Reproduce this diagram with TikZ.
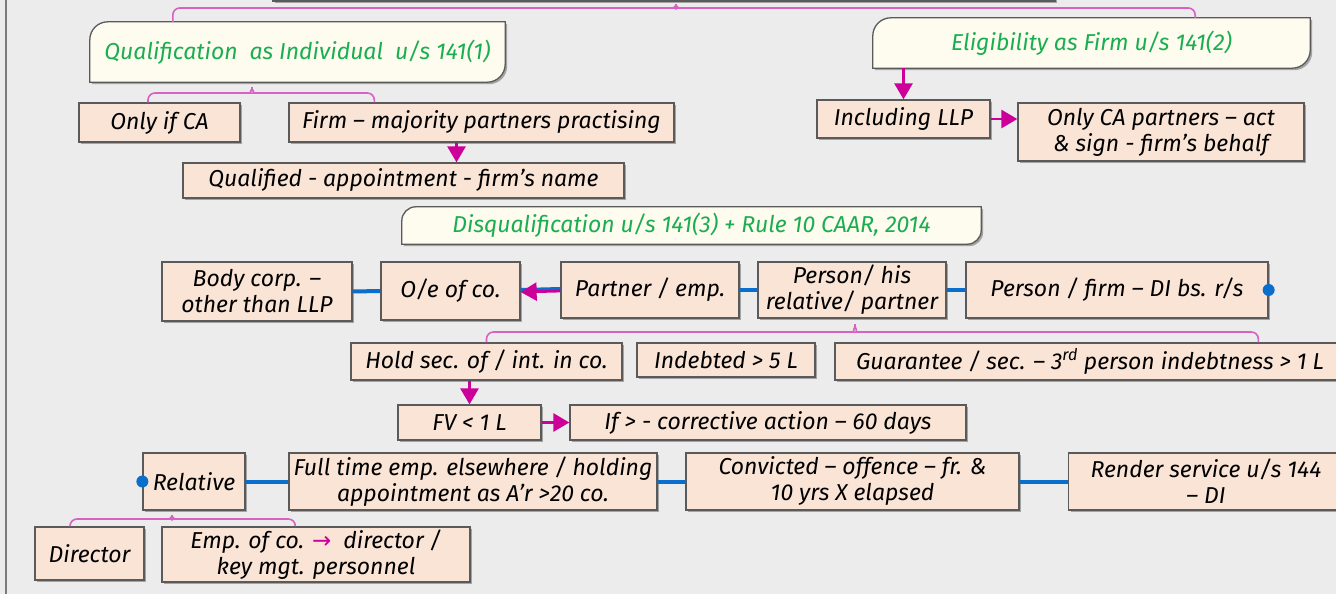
\documentclass[tikz,border=0pt]{standalone}
\usepackage{fontspec}
\setmainfont{Fira Sans}
\newfontfamily\symfont{DejaVu Sans}
\usetikzlibrary{arrows.meta,shadows,backgrounds}

\definecolor{bgc}{HTML}{ECECEC}
\definecolor{peach}{HTML}{F9E4D6}
\definecolor{cream}{HTML}{FEFBEF}
\definecolor{boxline}{HTML}{5A5A5A}
\definecolor{headgreen}{HTML}{1AAE50}
\definecolor{mag}{HTML}{CC0099}
\definecolor{bracepink}{HTML}{D960C4}
\definecolor{linkblue}{HTML}{0A6ECD}

\tikzset{
  txt/.style={font=\fontsize{23}{26}\selectfont\itshape},
  box/.style={txt, draw=boxline, fill=peach, line width=1.3pt, align=center, inner sep=2pt,
    drop shadow={shadow xshift=2pt, shadow yshift=-2pt, opacity=0.3, fill=black}},
  head/.style={txt, text=headgreen, align=center, inner sep=0pt},
  headbox/.style={draw=boxline, fill=cream, line width=1.3pt,
    drop shadow={shadow xshift=2pt, shadow yshift=-2pt, opacity=0.3, fill=black}},
  arr/.style={draw=mag, line width=2.8pt, -{Triangle[length=16pt,width=18pt]}},
  link/.style={draw=linkblue, line width=4pt},
  brace/.style={draw=bracepink, line width=1.6pt, rounded corners=7pt},
  dot/.style={circle, fill=linkblue, inner sep=0pt, minimum size=12pt},
}

\begin{document}
\begin{tikzpicture}[x=1pt, y=-1pt]
\useasboundingbox (0,0) rectangle (1336,594);
\clip (0,0) rectangle (1336,594);
\begin{scope}[on background layer]
  \fill[bgc] (0,0) rectangle (1336,594);
\end{scope}
\draw[boxline!80, line width=1.5pt] (6,0) -- (6,594);
% box cut off at the top
\draw[headbox] (273,-30) rectangle (1055,1);

% headings
\node[head, minimum width=415pt, minimum height=60pt] (qual) at (297.5,52) {Qualification\ \ as Individual\ \ u/s 141(1)};
\node[head, minimum width=437pt, minimum height=50pt] (elig) at (1091.5,43) {Eligibility as Firm u/s 141(2)};
\node[head, minimum width=579pt, minimum height=37pt] (disq) at (691.5,225.5) {Disqualification u/s 141(3) + Rule 10 CAAR, 2014};
\begin{scope}[on background layer]
  \foreach \h/\r in {qual/18pt, elig/18pt, disq/14pt}
    \draw[headbox] (\h.south west) -- ([yshift=-\r]\h.north west)
      arc[start angle=180, end angle=90, radius=\r] -- (\h.north east)
      -- ([yshift=\r]\h.south east) arc[start angle=0, end angle=-90, radius=\r] -- cycle;
\end{scope}

% qualification
\node[box, minimum width=161pt, minimum height=39pt] (onlyca) at (159.5,122.5) {Only if CA};
\node[box, minimum width=385pt, minimum height=39pt] (firm) at (481.5,122.5) {Firm – majority partners practising};
\node[box, minimum width=441pt, minimum height=35pt] (qualified) at (403.5,180.5) {Qualified - appointment - firm’s name};

% eligibility
\node[box, minimum width=173pt, minimum height=38pt] (incllp) at (903.5,119) {Including LLP};
\node[box, minimum width=286pt, minimum height=58pt] (onlycap) at (1161,132) {Only CA partners – act\\\& sign - firm’s behalf};

% disqualification
\node[box, minimum width=190pt, minimum height=59pt] (bodycorp) at (257,291.5) {Body corp. –\\other than LLP};
\node[box, minimum width=139pt, minimum height=58pt] (oe) at (450.5,291) {O/e of co.};
\node[box, minimum width=178pt, minimum height=56pt] (partner) at (650,290) {Partner / emp.};
\node[box, minimum width=188pt, minimum height=56pt] (personhis) at (852,290) {Person/ his\\relative/ partner};
\node[box, minimum width=302pt, minimum height=56pt] (personfirm) at (1117,290) {Person / firm – DI bs. r/s};
\node[dot] (dotr) at (personfirm.east) {};

\node[box, minimum width=271pt, minimum height=37pt] (holdsec) at (486.5,361.5) {Hold sec. of / int. in co.};
\node[box, minimum width=178pt, minimum height=34pt] (indebted) at (726,360) {Indebted > 5 L};
\node[box, minimum width=510pt, minimum height=37pt] (guarantee) at (1090,361.5) {Guarantee / sec. – 3\textsuperscript{rd} person indebtness > 1 L};
\node[box, minimum width=143pt, minimum height=35pt] (fv) at (469.5,422.5) {FV < 1 L};
\node[box, minimum width=396pt, minimum height=35pt] (ifgt) at (768,422.5) {If > - corrective action – 60 days};

\node[box, minimum width=102pt, minimum height=57pt] (relative) at (194,481.5) {Relative};
\node[dot] (dotl) at (relative.west) {};
\node[box, minimum width=368pt, minimum height=57pt] (fulltime) at (473,481.5) {Full time emp. elsewhere / holding\\appointment as A’r >20 co.};
\node[box, minimum width=333pt, minimum height=57pt] (convicted) at (852.5,481.5) {Convicted – offence – fr. \&\\10 yrs X elapsed};
\node[box, minimum width=275pt, minimum height=57pt] (render) at (1206,481.5) {Render service u/s 144\\– DI};
\node[box, minimum width=109pt, minimum height=53pt] (director) at (89.5,553.5) {Director};
\node[box, minimum width=308pt, minimum height=55pt] (empco) at (316,554.5) {Emp. of co. {\color{mag}\symfont\upshape →}\ \ director /\\key mgt. personnel};

% braces
\coordinate (tc) at (676,0);
\coordinate (qc) at (252,83);
\coordinate (pc) at (855,320);
\coordinate (rc) at (172,511);
\draw[brace] ([xshift=83pt]qual.north west) |- ([shift={(-8,8)}]tc) to[out=0,in=-90] (tc)
  to[out=-90,in=180] ([shift={(8,8)}]tc) -| ([xshift=-115pt]elig.north east);
\draw[brace] ([xshift=-11.5pt]onlyca.north) |- ([shift={(-8,10)}]qc) to[out=0,in=-90] (qc)
  to[out=-90,in=180] ([shift={(8,10)}]qc) -| ([xshift=86pt]firm.north west);
\draw[brace] (holdsec.north) |- ([shift={(-8,12)}]pc) to[out=0,in=-90] (pc)
  to[out=-90,in=180] ([shift={(8,12)}]pc) -| ([xshift=424pt]guarantee.north west);
\draw[brace] ([xshift=-19.5pt]director.north) |- ([shift={(-8,8)}]rc) to[out=0,in=-90] (rc)
  to[out=-90,in=180] ([shift={(8,8)}]rc) -| ([xshift=134pt]empco.north west);

% links
\draw[link] (bodycorp.east) -- (oe.west);
\draw[link] ([yshift=1pt]partner.west) -- ([yshift=1pt]oe.east);
\draw[link] (partner.east) -- (personhis.west);
\draw[link] (personhis.east) -- (personfirm.west);
\draw[link] (relative.east) -- (fulltime.west);
\draw[link] (fulltime.east) -- (convicted.west);
\draw[link] (convicted.east) -- (render.west);

% arrows
\draw[arr] ([xshift=-25pt]firm.south) -- ([xshift=-25pt]firm.south |- qualified.north);
\draw[arr] (incllp.north |- elig.south) -- (incllp.north);
\draw[arr] (incllp.east) -- (incllp.east -| onlycap.west);
\draw[arr] ([yshift=-1pt]partner.west) -- ([yshift=-1pt]oe.east);
\draw[arr] (fv.north |- holdsec.south) -- (fv.north);
\draw[arr] (fv.east) -- (ifgt.west);
\end{tikzpicture}
\end{document}
